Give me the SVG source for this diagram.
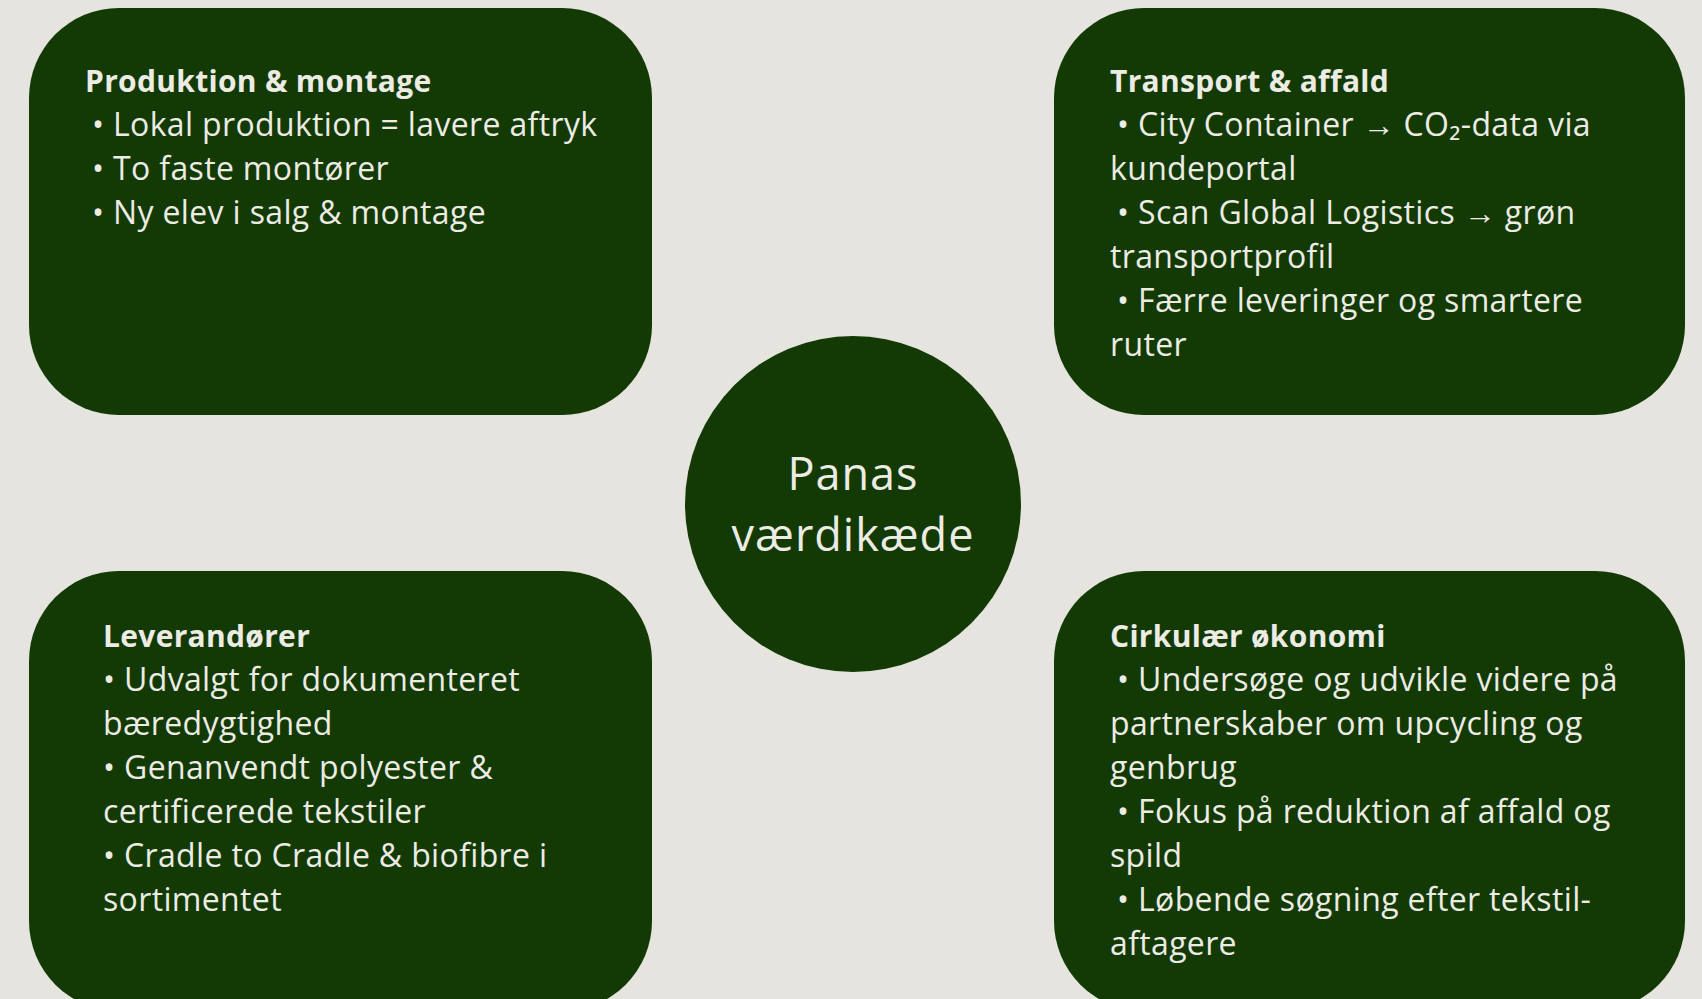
<svg xmlns="http://www.w3.org/2000/svg" width="1702" height="999" viewBox="0 0 1702 999">
<style>
.bg{fill:#E5E4DE}
.box{fill:#133905}
.t{font-family:"Open Sans","Noto Sans","Liberation Sans",sans-serif;fill:#ECEBE4;font-size:32px;letter-spacing:0.35px}
.h{font-weight:bold;font-size:30px;letter-spacing:0.3px}
.c{font-size:45px;letter-spacing:1px;text-anchor:middle}
</style>
<rect class="bg" x="0" y="0" width="1702" height="999"/>
<g id="connectors"></g>
<g id="node-produktion">
<rect class="box" x="29" y="8" width="623" height="407" rx="90" ry="90"/>
<text class="t h" x="85" y="92">Produktion &amp; montage</text>
<text class="t" x="92" y="136">• Lokal produktion = lavere aftryk</text>
<text class="t" x="92" y="180">• To faste montører</text>
<text class="t" x="92" y="224">• Ny elev i salg &amp; montage</text>
</g>
<g id="node-transport">
<rect class="box" x="1054" y="8" width="631" height="407" rx="90" ry="90"/>
<text class="t h" x="1110" y="92">Transport &amp; affald</text>
<text class="t" x="1117" y="136">• City Container → CO₂-data via</text>
<text class="t" x="1110" y="180">kundeportal</text>
<text class="t" x="1117" y="224">• Scan Global Logistics → grøn</text>
<text class="t" x="1110" y="268">transportprofil</text>
<text class="t" x="1117" y="312">• Færre leveringer og smartere</text>
<text class="t" x="1110" y="356">ruter</text>
</g>
<g id="node-center">
<circle class="box" cx="853" cy="504" r="168"/>
<text class="t c" x="853" y="490">Panas</text>
<text class="t c" x="853" y="551">værdikæde</text>
</g>
<g id="node-leverandorer">
<rect class="box" x="29" y="571" width="623" height="440" rx="90" ry="90"/>
<text class="t h" x="103" y="647">Leverandører</text>
<text class="t" x="103" y="691">• Udvalgt for dokumenteret</text>
<text class="t" x="103" y="735">bæredygtighed</text>
<text class="t" x="103" y="779">• Genanvendt polyester &amp;</text>
<text class="t" x="103" y="823">certificerede tekstiler</text>
<text class="t" x="103" y="867">• Cradle to Cradle &amp; biofibre i</text>
<text class="t" x="103" y="911">sortimentet</text>
</g>
<g id="node-cirkulaer">
<rect class="box" x="1054" y="571" width="631" height="440" rx="90" ry="90"/>
<text class="t h" x="1110" y="647">Cirkulær økonomi</text>
<text class="t" x="1117" y="691">• Undersøge og udvikle videre på</text>
<text class="t" x="1110" y="735">partnerskaber om upcycling og</text>
<text class="t" x="1110" y="779">genbrug</text>
<text class="t" x="1117" y="823">• Fokus på reduktion af affald og</text>
<text class="t" x="1110" y="867">spild</text>
<text class="t" x="1117" y="911">• Løbende søgning efter tekstil-</text>
<text class="t" x="1110" y="955">aftagere</text>
</g>
</svg>
